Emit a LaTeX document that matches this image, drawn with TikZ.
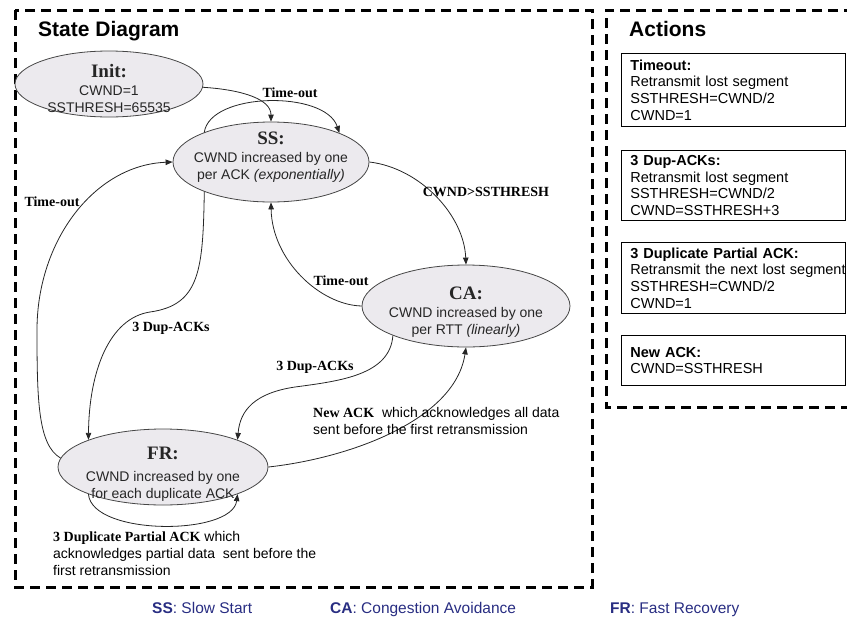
\documentclass[tikz,border=0pt]{standalone}
\usepackage{fontspec}
\setmainfont{Liberation Serif}
\newfontfamily\arial{Liberation Sans}
\usetikzlibrary{arrows.meta,shapes.geometric}

\definecolor{statefill}{RGB}{236,234,238}
\definecolor{stateline}{RGB}{70,70,70}
\definecolor{legendblue}{RGB}{40,45,130}

% state name set in bold serif
\newcommand\stname[1]{{\rmfamily\bfseries\fontsize{19}{19}\selectfont #1}}
\newcommand\lblbold[1]{{\rmfamily\bfseries #1}}

\begin{document}
\begin{tikzpicture}[x=1pt,y=-1pt,
  frame/.style={line width=3pt, dash pattern=on 10pt off 6pt},
  state/.style={ellipse, draw=stateline, fill=statefill, line width=0.8pt, inner sep=0pt},
  statetext/.style={align=center, inner sep=0pt, anchor=north, text=black!85,
    font=\arial\fontsize{14}{17}\selectfont},
  trans/.style={line width=0.8pt, draw=black!85, -{Triangle[length=7pt,width=5.5pt]}},
  elabel/.style={font=\rmfamily\bfseries\fontsize{14}{17}\selectfont, inner sep=0pt},
  notetext/.style={align=left, inner sep=0pt, anchor=north west,
    font=\arial\fontsize{14}{17}\selectfont},
  heading/.style={font=\arial\bfseries\fontsize{21}{21}\selectfont, inner sep=0pt, anchor=base west},
  actbox/.style={draw, line width=0.8pt, anchor=north west, text width=206pt, inner xsep=9pt,
    inner ysep=0pt, align=left, font=\arial\fontsize{14.5}{16.7}\selectfont},
  legend/.style={font=\arial\fontsize{15.5}{16}\selectfont, text=legendblue, inner sep=0pt, anchor=base west}
]
\useasboundingbox (0,0) rectangle (847,619);
\clip (0,0) rectangle (847,619);

% frames
\draw[frame] (15,10) rectangle (592,587);
\draw[frame] (870,10) -- (606,10) -- (606,407) -- (870,407);

\node[heading] (title-state) at (38,36) {State Diagram};
\node[heading] (title-actions) at (629,36) {Actions};

% states
\node[state, minimum width=188pt, minimum height=66pt] (init) at (109,84) {};
\node[state, minimum width=196pt, minimum height=80pt] (ss) at (271,162) {};
\node[state, minimum width=208pt, minimum height=82pt] (ca) at (466,306) {};
\node[state, minimum width=210pt, minimum height=76pt] (fr) at (163,467) {};

\node[statetext] (init-t) at (109,64) {\stname{Init:}\\[1.5pt] CWND=1\\ SSTHRESH=65535};
\node[statetext] (ss-t) at (271,131.5) {\stname{SS:}\\[1.5pt] CWND increased by one\\ per ACK \textit{(exponentially)}};
\node[statetext] (ca-t) at (466,286.5) {\stname{CA:}\\[1pt] CWND increased by one\\ per RTT \textit{(linearly)}};
\node[statetext] (fr-t) at (163,447) {\stname{FR:}\\[5pt] CWND increased by one\\ for each duplicate ACK};

% transitions
\draw[trans] (init.-2) .. controls (245,90) and (271,100) .. (ss.north);
\draw[trans] (ss.156) .. controls (210,92) and (325,90) .. (ss.23);
\draw[trans] (ss.east) .. controls (420,168) and (464,215) .. (ca.north);
\draw[trans] (ca.west) .. controls (320,305) and (272,260) .. (ss.south);
\draw[trans] (ss.204) .. controls (203,270) and (200,305) .. (150,312)
  .. controls (110,318) and (89,370) .. (fr.160);
\draw[trans] (ca.202) .. controls (390,375) and (340,381) .. (295,387)
  .. controls (255,393) and (240,410) .. (fr.20);
\draw[trans] (fr.east) .. controls (350,458) and (455,420) .. (ca.south);
\draw[trans] (fr.200) .. controls (92,536) and (232,536) .. (fr.340);
\draw[trans] (fr.175) .. controls (38,445) and (37,400) .. (37,330)
  .. controls (37,240) and (95,165) .. (ss.west);

% transition labels
\node[elabel] (lbl-ss-loop) at (290,93) {Time-out};
\node[elabel] (lbl-ss-ca) at (486,192) {CWND>SSTHRESH};
\node[elabel] (lbl-ca-ss) at (341,281) {Time-out};
\node[elabel] (lbl-ss-fr) at (171,328) {3 Dup-ACKs};
\node[elabel] (lbl-ca-fr) at (315,367) {3 Dup-ACKs};
\node[elabel] (lbl-fr-ss) at (52,202) {Time-out};
\node[notetext] (lbl-fr-ca) at (313,407) {\lblbold{New ACK}\ \ which acknowledges all data\\sent before the first retransmission};
\node[notetext] (lbl-fr-loop) at (53,531) {\lblbold{3 Duplicate Partial ACK} which\\acknowledges partial data\ \ sent before the\\first retransmission};

% actions
\node[actbox, minimum height=73pt] (act-timeout) at (621,53)
  {\textbf{Timeout:}\\Retransmit lost segment\\SSTHRESH=CWND/2\\CWND=1};
\node[actbox, minimum height=70pt] (act-dupack) at (621,150)
  {\textbf{3 Dup-ACKs:}\\Retransmit lost segment\\SSTHRESH=CWND/2\\CWND=SSTHRESH+3};
\node[actbox, minimum height=71pt] (act-partial) at (621,242)
  {\textbf{3 Duplicate Partial ACK:}\\\mbox{Retransmit the next lost segment}\\SSTHRESH=CWND/2\\CWND=1};
\node[actbox, minimum height=50pt] (act-newack) at (621,335)
  {\textbf{New ACK:}\\CWND=SSTHRESH};

% legend
\node[legend] (leg-ss) at (152,613) {\textbf{SS}: Slow Start};
\node[legend] (leg-ca) at (330,613) {\textbf{CA}: Congestion Avoidance};
\node[legend] (leg-fr) at (610,613) {\textbf{FR}: Fast Recovery};
\end{tikzpicture}
\end{document}
